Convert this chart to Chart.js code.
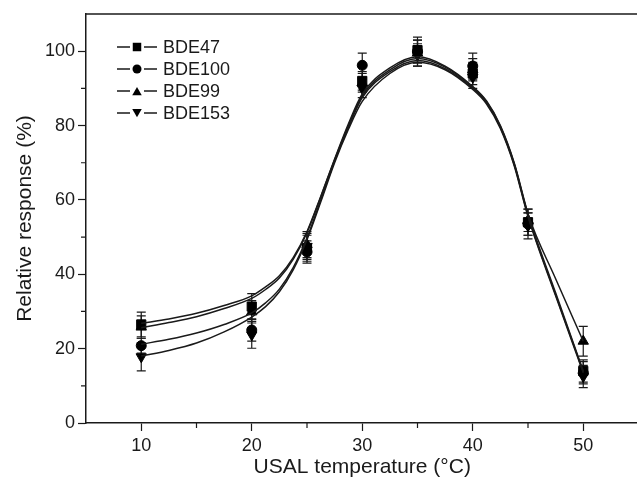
<!DOCTYPE html>
<html>
<head>
<meta charset="utf-8">
<script src="https://cdn.jsdelivr.net/npm/chart.js@4.4.1/dist/chart.umd.min.js"></script>
<style>
  html, body { margin: 0; padding: 0; background: #fff; overflow: hidden; }
  #wrap { width: 646px; height: 481px; }
</style>
</head>
<body>
<div id="wrap"><canvas id="chart" width="646" height="481"></canvas></div>
<script>
// measured temperatures (°C)
const temps = [10, 20, 25, 30, 35, 40, 45, 50];

// relative response (%) and error (±)
const bde47 = [26.5, 31.3, 47.0, 92.0, 100.3, 94.0, 54.0, 14.0];
const bde47Err = [3.3, 3.5, 3.5, 2.5, 3.5, 3.0, 3.5, 3.0];
const bde100 = [20.8, 25.0, 46.0, 96.2, 100.0, 96.0, 53.5, 13.5];
const bde100Err = [2.0, 3.0, 3.0, 3.3, 3.0, 3.5, 3.0, 3.0];
const bde99 = [25.8, 29.9, 48.0, 91.5, 99.5, 95.0, 54.5, 22.0];
const bde99Err = [3.0, 3.0, 3.5, 2.5, 3.5, 3.0, 3.0, 4.0];
const bde153 = [17.8, 23.7, 47.5, 90.0, 99.0, 93.0, 53.0, 12.5];
const bde153Err = [3.8, 3.6, 3.5, 2.5, 3.0, 3.0, 3.5, 3.0];

// fitted curves
const fitTemps = [10, 12.5, 15, 17.5, 20, 21.25, 22.5, 23.75, 25, 26.25, 27.5, 28.75, 30, 32.5, 35, 37.5, 40, 41.25, 42.5, 43.75, 45, 47.5, 50];
const fit47 = [26.8, 28.0, 29.5, 31.6, 34.2, 36.6, 39.6, 44.5, 51.5, 61.0, 71.0, 80.5, 88.5, 95.5, 98.5, 96.0, 90.5, 86.6, 80.0, 70.0, 56.3, 35.0, 14.0];
const fit100 = [21.2, 22.5, 24.2, 26.5, 29.6, 32.3, 36.0, 41.8, 49.8, 60.0, 70.5, 79.5, 87.5, 94.5, 97.5, 95.3, 90.0, 86.1, 79.5, 69.5, 55.8, 34.5, 13.8];
const fit99 = [25.6, 27.0, 28.6, 30.8, 33.5, 35.9, 39.0, 44.0, 51.2, 60.8, 70.8, 80.0, 88.0, 95.0, 98.0, 95.7, 90.3, 86.4, 79.8, 69.8, 56.2, 38.8, 22.0];
const fit153 = [18.0, 19.5, 21.5, 24.5, 28.5, 31.3, 35.3, 41.2, 49.3, 59.5, 70.0, 79.0, 86.5, 94.0, 97.0, 95.0, 89.7, 85.8, 79.2, 69.2, 55.5, 34.2, 13.5];

const xTicksMajor = [10, 20, 30, 40, 50];
const xTicksMinor = [15, 25, 35, 45];
const yTicksMajor = [0, 20, 40, 60, 80, 100];
const yTicksMinor = [10, 30, 50, 70, 90];

const FONT = "'Liberation Sans', Arial, sans-serif";
const INK = '#1a1a1a';

const series = [
  { label: 'BDE47', values: bde47, errs: bde47Err, fit: fit47, style: 'rect', radius: 6.5, rotation: 0 },
  { label: 'BDE100', values: bde100, errs: bde100Err, fit: fit100, style: 'circle', radius: 5, rotation: 0 },
  { label: 'BDE99', values: bde99, errs: bde99Err, fit: fit99, style: 'triangle', radius: 6, rotation: 0 },
  { label: 'BDE153', values: bde153, errs: bde153Err, fit: fit153, style: 'triangle', radius: 6, rotation: 180 },
];

const toXY = (xs, ys) => xs.map((x, i) => ({ x, y: ys[i] }));

const datasets = [];
series.forEach(s => {
  datasets.push({
    type: 'line',
    label: s.label + ' fit',
    data: toXY(fitTemps, s.fit),
    borderColor: INK,
    borderWidth: 1.5,
    pointRadius: 0,
    cubicInterpolationMode: 'monotone',
    fill: false,
  });
});
series.forEach(s => {
  datasets.push({
    type: 'scatter',
    label: s.label,
    data: toXY(temps, s.values),
    errs: s.errs,
    pointStyle: s.style,
    pointRadius: s.radius,
    pointRotation: s.rotation,
    backgroundColor: '#000',
    borderColor: '#000',
    borderWidth: 1,
    showLine: false,
  });
});

function drawMarker(ctx, style, r, rot, x, y) {
  ctx.save();
  ctx.translate(x, y);
  ctx.rotate(rot * Math.PI / 180);
  ctx.beginPath();
  if (style === 'rect') {
    const h = r * Math.SQRT1_2;
    ctx.rect(-h, -h, 2 * h, 2 * h);
  } else if (style === 'circle') {
    ctx.arc(0, 0, r, 0, Math.PI * 2);
  } else {
    for (let k = 0; k < 3; k++) {
      const ang = -Math.PI / 2 + k * 2 * Math.PI / 3;
      const px = r * Math.cos(ang), py = r * Math.sin(ang) + r * 0.25;
      if (k === 0) ctx.moveTo(px, py); else ctx.lineTo(px, py);
    }
    ctx.closePath();
  }
  ctx.fillStyle = '#000';
  ctx.fill();
  ctx.restore();
}

const errorBars = {
  id: 'errorBars',
  beforeDatasetsDraw(chart) {
    const { ctx, scales: { x, y } } = chart;
    ctx.save();
    ctx.strokeStyle = INK;
    ctx.lineWidth = 1.2;
    chart.data.datasets.forEach(ds => {
      if (!ds.errs) return;
      ds.data.forEach((p, i) => {
        const px = x.getPixelForValue(p.x);
        const top = y.getPixelForValue(p.y + ds.errs[i]);
        const bot = y.getPixelForValue(p.y - ds.errs[i]);
        ctx.beginPath();
        ctx.moveTo(px, top); ctx.lineTo(px, bot);
        ctx.moveTo(px - 4.5, top); ctx.lineTo(px + 4.5, top);
        ctx.moveTo(px - 4.5, bot); ctx.lineTo(px + 4.5, bot);
        ctx.stroke();
      });
    });
    ctx.restore();
  },
};

const frameAndLegend = {
  id: 'frameAndLegend',
  afterDraw(chart) {
    const { ctx, chartArea: area, scales: { x, y } } = chart;
    ctx.save();
    ctx.strokeStyle = INK;
    ctx.lineWidth = 1.5;
    // top frame line
    ctx.beginPath();
    ctx.moveTo(area.left, area.top);
    ctx.lineTo(area.right, area.top);
    ctx.stroke();
    // minor ticks
    ctx.lineWidth = 1.2;
    ctx.beginPath();
    xTicksMinor.forEach(v => {
      const px = x.getPixelForValue(v);
      ctx.moveTo(px, area.bottom); ctx.lineTo(px, area.bottom + 5);
    });
    yTicksMinor.forEach(v => {
      const py = y.getPixelForValue(v);
      ctx.moveTo(area.left, py); ctx.lineTo(area.left - 5, py);
    });
    ctx.stroke();
    // legend: line - marker - line, label
    ctx.font = '18px ' + FONT;
    ctx.textBaseline = 'middle';
    ctx.fillStyle = INK;
    series.forEach((s, i) => {
      const ly = area.top + 33 + i * 22;
      const lx = area.left + 31;
      ctx.lineWidth = 1.4;
      ctx.beginPath();
      ctx.moveTo(lx, ly); ctx.lineTo(lx + 13, ly);
      ctx.moveTo(lx + 27, ly); ctx.lineTo(lx + 40, ly);
      ctx.stroke();
      drawMarker(ctx, s.style, s.radius - 0.5, s.rotation, lx + 20, ly);
      ctx.fillText(s.label, lx + 46, ly + 1);
    });
    ctx.restore();
  },
};

new Chart(document.getElementById('chart'), {
  data: { datasets },
  options: {
    responsive: false,
    devicePixelRatio: 1,
    animation: false,
    layout: { padding: { top: 14, right: 5, left: 0, bottom: 0 } },
    plugins: {
      legend: { display: false },
      tooltip: { enabled: false },
    },
    scales: {
      x: {
        type: 'linear',
        min: 5,
        max: 55,
        afterFit: s => { s.height = 58; },
        afterBuildTicks: s => { s.ticks = xTicksMajor.map(v => ({ value: v })); },
        border: { display: true, color: INK, width: 1.5 },
        grid: { drawOnChartArea: false, drawTicks: true, tickLength: 8, tickColor: INK, tickWidth: 1.2 },
        ticks: {
          color: INK,
          font: { family: FONT, size: 18 },
          padding: 4,
          maxRotation: 0,
        },
        title: {
          display: true,
          text: 'USAL temperature (°C)',
          color: INK,
          font: { family: FONT, size: 21, lineHeight: 1.2 },
          padding: { top: 0, bottom: 1 },
        },
      },
      y: {
        type: 'linear',
        min: 0,
        max: 110,
        afterFit: s => { s.width = 86; },
        afterBuildTicks: s => { s.ticks = yTicksMajor.map(v => ({ value: v })); },
        border: { display: true, color: INK, width: 1.5 },
        grid: { drawOnChartArea: false, drawTicks: true, tickLength: 8, tickColor: INK, tickWidth: 1.2 },
        ticks: {
          color: INK,
          font: { family: FONT, size: 18 },
          padding: 3,
        },
        title: {
          display: true,
          text: 'Relative response (%)',
          color: INK,
          font: { family: FONT, size: 21, lineHeight: 1.2 },
          padding: { top: 13, bottom: 0 },
        },
      },
    },
  },
  plugins: [errorBars, frameAndLegend],
});
</script>
</body>
</html>
